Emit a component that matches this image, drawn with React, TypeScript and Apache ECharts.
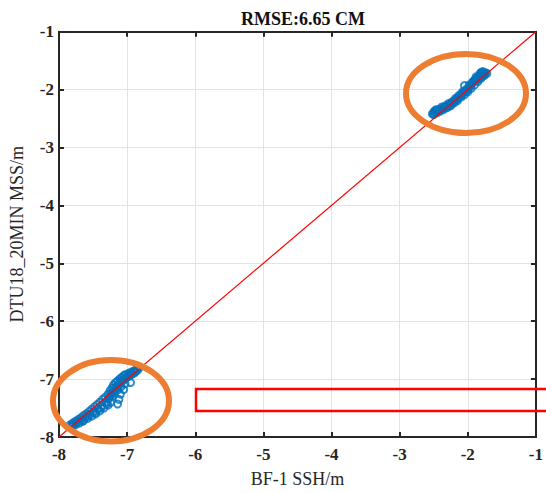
import React, { useEffect, useRef } from "react";
import * as echarts from "echarts";

const axisMin = -8;
const axisMax = -1;
const tickStep = 1;
const chartTitle = "RMSE:6.65 CM";
const xName = "BF-1 SSH/m";
const yName = "DTU18_20MIN MSS/m";
const refLine: [number, number][] = [[-8, -8], [-1, -1]];

const upperCluster: [number, number][] = [
  [-2.52, -2.42], [-2.50, -2.40], [-2.48, -2.39], [-2.46, -2.38], [-2.44, -2.37], [-2.42, -2.36],
  [-2.40, -2.35], [-2.38, -2.33], [-2.36, -2.32], [-2.34, -2.31], [-2.32, -2.30], [-2.30, -2.29],
  [-2.28, -2.27], [-2.26, -2.26], [-2.24, -2.24], [-2.22, -2.23], [-2.20, -2.20], [-2.18, -2.18],
  [-2.16, -2.17], [-2.14, -2.14], [-2.12, -2.12], [-2.10, -2.10], [-2.08, -2.07], [-2.06, -2.05],
  [-2.04, -2.03], [-2.02, -2.02], [-2.00, -2.00], [-1.98, -1.97], [-1.96, -1.93], [-1.94, -1.90],
  [-1.92, -1.86], [-1.90, -1.84], [-1.88, -1.82], [-1.86, -1.80], [-1.84, -1.78], [-1.82, -1.76],
  [-1.80, -1.74], [-1.78, -1.73], [-1.76, -1.72], [-1.74, -1.71], [-1.72, -1.72],
  [-2.50, -2.43], [-2.45, -2.40], [-2.40, -2.37], [-2.35, -2.34], [-2.30, -2.31], [-2.25, -2.28],
  [-2.20, -2.23], [-2.15, -2.19], [-2.10, -2.13], [-2.05, -2.09], [-2.00, -2.04], [-1.95, -1.98],
  [-1.90, -1.92], [-1.85, -1.86], [-1.80, -1.80], [-1.76, -1.76],
  [-2.47, -2.35], [-2.38, -2.30], [-2.28, -2.24], [-2.18, -2.15], [-2.08, -2.04], [-1.98, -1.92],
  [-1.88, -1.78], [-1.82, -1.72], [-1.78, -1.69],
  [-2.05, -1.93], [-1.80, -1.70],
  [-2.49, -2.37], [-2.43, -2.34], [-2.33, -2.28], [-2.23, -2.21], [-2.13, -2.10], [-2.03, -2.00],
  [-1.93, -1.87], [-1.87, -1.84], [-1.83, -1.81], [-1.79, -1.77], [-1.75, -1.74],
];

const lowerCluster: [number, number][] = [
  [-7.84, -7.79], [-7.80, -7.76], [-7.76, -7.73], [-7.72, -7.70], [-7.68, -7.67], [-7.64, -7.63],
  [-7.60, -7.60], [-7.56, -7.56], [-7.52, -7.52], [-7.48, -7.48], [-7.44, -7.44], [-7.40, -7.40],
  [-7.36, -7.35], [-7.32, -7.31],
  [-7.82, -7.82], [-7.76, -7.79], [-7.70, -7.76], [-7.64, -7.72], [-7.58, -7.68], [-7.52, -7.64],
  [-7.46, -7.60], [-7.40, -7.55], [-7.34, -7.50], [-7.28, -7.45], [-7.24, -7.40],
  [-7.79, -7.79], [-7.73, -7.74], [-7.67, -7.70], [-7.61, -7.66], [-7.55, -7.61], [-7.49, -7.56],
  [-7.43, -7.52], [-7.37, -7.46], [-7.31, -7.40], [-7.27, -7.34],
  [-7.28, -7.26], [-7.25, -7.20], [-7.22, -7.15], [-7.20, -7.10], [-7.17, -7.06], [-7.14, -7.03],
  [-7.11, -7.00], [-7.08, -6.97], [-7.05, -6.94], [-7.02, -6.92], [-6.98, -6.90], [-6.94, -6.88],
  [-6.90, -6.86], [-6.86, -6.83], [-6.82, -6.80],
  [-7.24, -7.28], [-7.20, -7.22], [-7.16, -7.16], [-7.12, -7.10], [-7.08, -7.04], [-7.04, -7.00],
  [-7.00, -6.96], [-6.96, -6.93], [-6.92, -6.90], [-6.88, -6.87],
  [-7.10, -7.26], [-7.14, -7.43], [-6.95, -7.06], [-7.05, -7.18], [-7.12, -7.35],
  [-7.81, -7.80], [-7.74, -7.76], [-7.66, -7.73], [-7.57, -7.64], [-7.47, -7.58], [-7.38, -7.50],
  [-7.30, -7.43], [-7.26, -7.31], [-7.23, -7.24], [-7.19, -7.16], [-7.15, -7.12], [-7.10, -7.05],
  [-7.06, -7.02], [-7.01, -6.98], [-6.97, -6.95], [-6.93, -6.92], [-6.89, -6.89], [-6.85, -6.85],
  [-7.21, -7.30], [-7.18, -7.24], [-7.13, -7.18], [-7.09, -7.13], [-7.03, -7.08],
];

const FONT = "'Liberation Serif', 'DejaVu Serif', serif";
const AXIS_COLOR = "#262626";

function makeAxis(pos: string, showLabels: boolean, name?: string, isY?: boolean) {
  return {
    type: "value",
    position: pos,
    min: axisMin,
    max: axisMax,
    interval: tickStep,
    name: name,
    nameLocation: "middle",
    nameGap: isY ? 33 : 33,
    nameTextStyle: { fontFamily: FONT, fontSize: 18, color: "#262626" },
    axisLine: { show: true, onZero: false, lineStyle: { color: AXIS_COLOR, width: 2 } },
    axisTick: { show: true, inside: true, length: 5, lineStyle: { color: AXIS_COLOR, width: 2 } },
    axisLabel: {
      show: showLabels,
      fontFamily: FONT,
      fontWeight: "bold",
      fontSize: 17,
      color: "#262626",
      margin: isY ? 5 : 9,
    },
    splitLine: { show: showLabels, lineStyle: { color: "#e3e3e3", width: 1 } },
  };
}

export default function App() {
  const ref = useRef<HTMLDivElement>(null);
  useEffect(() => {
    if (!ref.current) return;
    const chart = echarts.init(ref.current, null, { renderer: "svg" });
    const scatterStyle = {
      type: "scatter",
      symbol: "circle",
      symbolSize: 7,
      itemStyle: { color: "rgba(0,0,0,0)", borderColor: "#0072BD", borderWidth: 2 },
      z: 3,
    };
    chart.setOption({
      animation: false,
      backgroundColor: "#ffffff",
      title: {
        text: chartTitle,
        left: 298,
        top: 5,
        textAlign: "center",
        textStyle: { fontFamily: FONT, fontWeight: "bold", fontSize: 18, color: "#111" },
      },
      grid: { left: 55.6, right: 4.6, top: 31.7, bottom: 54, containLabel: false },
      xAxis: [makeAxis("bottom", true, xName, false), makeAxis("top", false)],
      yAxis: [makeAxis("left", true, yName, true), makeAxis("right", false)],
      series: [
        { ...scatterStyle, name: "upper", data: upperCluster },
        { ...scatterStyle, name: "lower", data: lowerCluster },
        {
          type: "line",
          data: refLine,
          symbol: "none",
          lineStyle: { color: "#ff0000", width: 1.2 },
          z: 4,
        },
      ],
      graphic: [
        {
          type: "ellipse",
          shape: { cx: 466, cy: 93.5, rx: 60, ry: 39.5 },
          style: { fill: "none", stroke: "#ED7D31", lineWidth: 6 },
          z: 10,
        },
        {
          type: "ellipse",
          shape: { cx: 111, cy: 400.7, rx: 58, ry: 40.7 },
          style: { fill: "none", stroke: "#ED7D31", lineWidth: 6 },
          z: 10,
        },
        {
          type: "rect",
          shape: { x: 196, y: 389, width: 360, height: 22 },
          style: { fill: "none", stroke: "#ff0000", lineWidth: 2.5 },
          z: 10,
        },
      ],
    });
    return () => chart.dispose();
  }, []);
  return (
    <div
      ref={ref}
      style={{ position: "fixed", left: 0, top: 0, width: 546, height: 493, background: "#fff" }}
    />
  );
}
